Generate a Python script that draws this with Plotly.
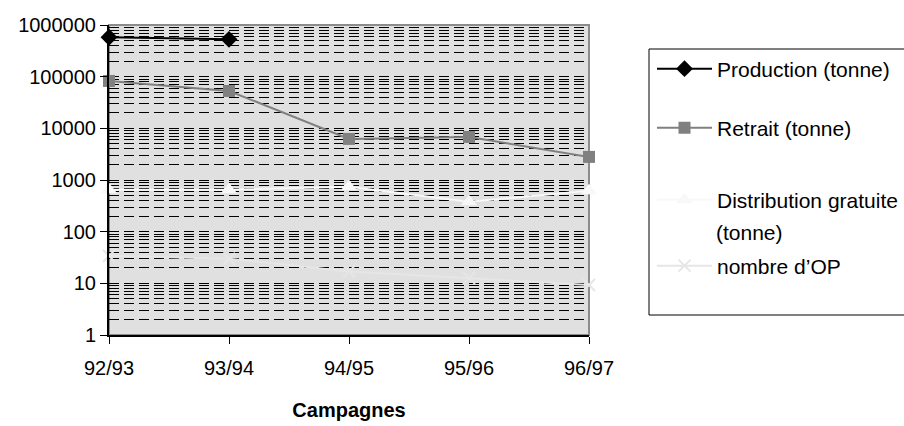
import plotly.graph_objects as go

campagnes = ["92/93", "93/94", "94/95", "95/96", "96/97"]
production = [578000, 528000, None, None, None]
retrait = [82600, 52900, 6240, 6820, 2800]
distribution = [650, 650, 740, 380, 620]
nombre_op = [34, 30, 17, 12.6, 9.3]

y_ticks = [1, 10, 100, 1000, 10000, 100000, 1000000]
y_ticktext = ["1", "10", "100", "1000", "10000", "100000", "1000000"]

FONT = "Liberation Sans, Arial, sans-serif"

fig = go.Figure()
fig.add_trace(go.Scatter(x=campagnes, y=production, name="Production (tonne)", mode="lines+markers",
                         line=dict(color="black", width=2), cliponaxis=False,
                         marker=dict(symbol="diamond", size=13, color="black"),
                         legend="legend"))
fig.add_trace(go.Scatter(x=campagnes, y=retrait, name="Retrait (tonne)", mode="lines+markers",
                         line=dict(color="#808080", width=2), cliponaxis=False,
                         marker=dict(symbol="square", size=12, color="#808080"),
                         legend="legend2"))
fig.add_trace(go.Scatter(x=campagnes, y=distribution, name="Distribution gratuite", mode="lines+markers",
                         line=dict(color="#f8f8f8", width=2), cliponaxis=False,
                         marker=dict(symbol="triangle-up", size=14, color="#f8f8f8"),
                         legend="legend3"))
fig.add_trace(go.Scatter(x=campagnes, y=nombre_op, name="nombre d’OP", mode="lines+markers",
                         line=dict(color="#e6e6e6", width=2), cliponaxis=False,
                         marker=dict(symbol="x-thin", size=12, color="#e6e6e6",
                                     line=dict(color="#e6e6e6", width=2)),
                         legend="legend4"))

# plot frame top/right in grey
fig.add_shape(type="rect", xref="paper", yref="paper", x0=0, x1=1, y0=0, y1=1,
              line=dict(color="#8c8c8c", width=2), layer="below")
# legend box
fig.add_shape(type="rect", xref="paper", yref="paper",
              x0=(649 - 109) / 480, x1=(920 - 109) / 480,
              y0=(335 - 315) / 310, y1=(335 - 49) / 310,
              line=dict(color="black", width=1), fillcolor="white", layer="below")

LEG_FS = 21
leg_common = dict(bgcolor="rgba(0,0,0,0)", borderwidth=0, itemwidth=55,
                  font=dict(family=FONT, size=LEG_FS, color="black"),
                  xanchor="left", yanchor="middle", itemclick=False)
lx = (652 - 109) / 480
def ly(py):
    return (335 - py) / 310

fig.add_annotation(text="(tonne)", xref="paper", yref="paper", x=(714 - 109) / 480, y=ly(232),
                   xanchor="left", yanchor="middle", showarrow=False,
                   font=dict(family=FONT, size=LEG_FS, color="black"))

fig.update_layout(
    width=904, height=426,
    margin=dict(l=109, r=315, t=25, b=91, autoexpand=False),
    paper_bgcolor="white",
    plot_bgcolor="#e0e0e0",
    font=dict(family=FONT, size=20, color="black"),
    showlegend=True,
    legend=dict(x=lx, y=ly(69), **leg_common),
    legend2=dict(x=lx, y=ly(128), **leg_common),
    legend3=dict(x=lx, y=ly(200), **leg_common),
    legend4=dict(x=lx, y=ly(266), **leg_common),
    xaxis=dict(type="category", range=[0, 4], showgrid=False, zeroline=False,
               showline=True, linecolor="black", linewidth=2,
               ticks="outside", ticklen=7, tickwidth=1, tickcolor="black",
               ticklabelstandoff=7,
               tickfont=dict(family=FONT, size=20, color="black"),
               title=dict(text="<b>Campagnes</b>", standoff=25,
                          font=dict(family=FONT, size=20, color="black"))),
    yaxis=dict(type="log", range=[0, 6], showgrid=True, gridcolor="black", gridwidth=1,
               griddash="10px,5px", zeroline=False,
               showline=True, linecolor="black", linewidth=2,
               ticks="outside", ticklen=7, tickwidth=1, tickcolor="black",
               tickvals=y_ticks, ticktext=y_ticktext,
               tickfont=dict(family=FONT, size=20, color="black"),
               minor=dict(dtick="D1", showgrid=True, gridcolor="black", gridwidth=1,
                          griddash="10px,5px", ticks="")),
)

fig.write_html("out.html")
